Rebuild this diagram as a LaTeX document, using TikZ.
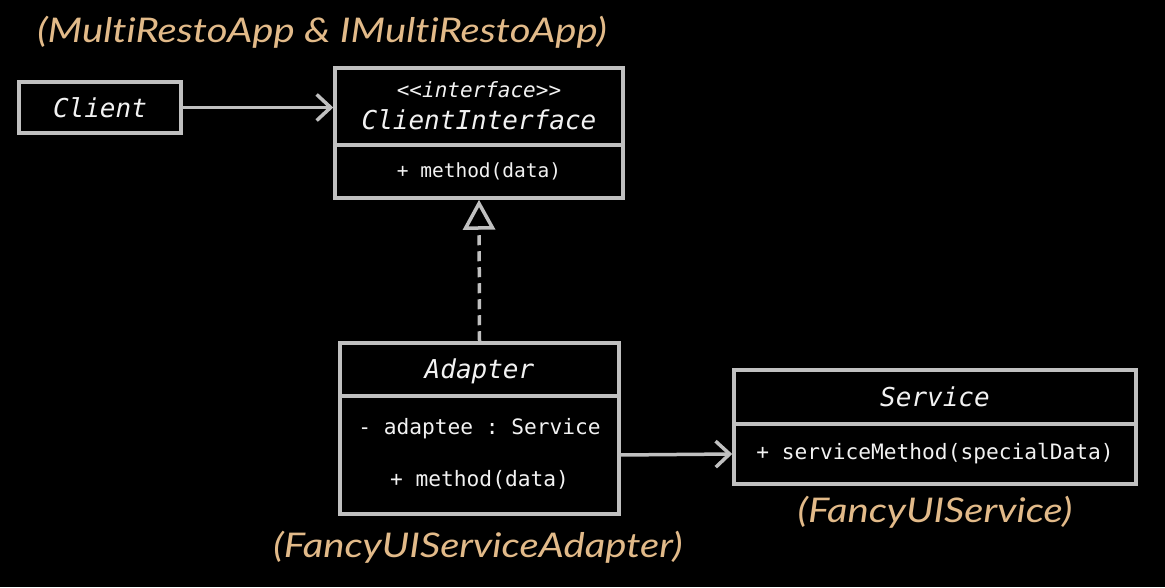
\documentclass[tikz,border=0pt]{standalone}
\usepackage{fontspec}
\setmonofont{DejaVu Sans Mono}
\newfontfamily\lblfont{Lato}[FakeStretch=1.18, Ligatures={NoCommon}]
\usetikzlibrary{arrows.meta}
\definecolor{boxline}{RGB}{192,192,192}
\definecolor{txt}{RGB}{242,242,242}
\definecolor{lbl}{RGB}{226,186,137}
\tikzset{
  comp/.style={draw=boxline, line width=3.5pt, fill=black, text=txt, inner sep=0pt, font=\ttfamily},
  tname/.style={text=txt, font=\ttfamily\itshape\fontsize{26}{30}\selectfont},
  tmem/.style={text=txt, font=\ttfamily\fontsize{21.2}{24}\selectfont},
  conn/.style={draw=boxline, line width=3.5pt},
  tag/.style={text=lbl, font=\lblfont\itshape\fontsize{34}{40}\selectfont},
}
\begin{document}
\begin{tikzpicture}[x=1pt,y=1pt]
\fill[black] (0,0) rectangle (1165,587);
\useasboundingbox (0,0) rectangle (1165,587);

% Client
\node[comp, minimum width=162pt, minimum height=51pt] (client) at (100,479.5) {};
\node[tname] (clientt) at (client.center) {Client};

% ClientInterface
\node[comp, minimum width=288pt, minimum height=77pt] (citop) at (479,480.5) {};
\node[comp, minimum width=288pt, minimum height=53pt] (cibot) at (479,415.5) {};
\node[text=txt, font=\ttfamily\itshape\fontsize{21}{24}\selectfont] (cistereo) at (479,497) {<<interface>>};
\node[tname] (ciname) at (479,467.5) {ClientInterface};
\node[tmem, font=\ttfamily\fontsize{19.5}{24}\selectfont] (cim) at (cibot.center) {+ method(data)};

% Adapter
\node[comp, minimum width=279pt, minimum height=53pt] (adtop) at (479.5,217.5) {};
\node[comp, minimum width=279pt, minimum height=118pt] (adbot) at (479.5,132) {};
\node[tname] (adname) at (479.5,215.5) {Adapter};
\node[tmem] (adf) at (479.5,158) {- adaptee : Service};
\node[tmem] (adm) at (479.5,107) {+ method(data)};

% Service
\node[comp, minimum width=402pt, minimum height=54pt] (svtop) at (935,190) {};
\node[comp, minimum width=402pt, minimum height=60pt] (svbot) at (935,133) {};
\node[tname] (svname) at (svtop.center) {Service};
\node[tmem] (svm) at (svbot.center) {+ serviceMethod(specialData)};

% connectors
\draw[conn, -{Straight Barb[length=14pt,width=26pt,line width=3.5pt]}] (client.east) -- (client.east -| citop.west);
\draw[conn, dash pattern=on 10pt off 6pt, -{Triangle[open,length=30pt,width=32pt,line width=3.5pt]}] (adtop.north) -- (cibot.south);
\draw[conn, -{Straight Barb[length=14pt,width=26pt,line width=3.5pt]}] (adbot.east) -- (svbot.west);

% labels
\node[tag] (l1) at (322,555) {(MultiRestoApp \& IMultiRestoApp)};
\node[tag] (l2) at (478,40) {(FancyUIServiceAdapter)};
\node[tag] (l3) at (935,75) {(FancyUIService)};
\end{tikzpicture}
\end{document}
